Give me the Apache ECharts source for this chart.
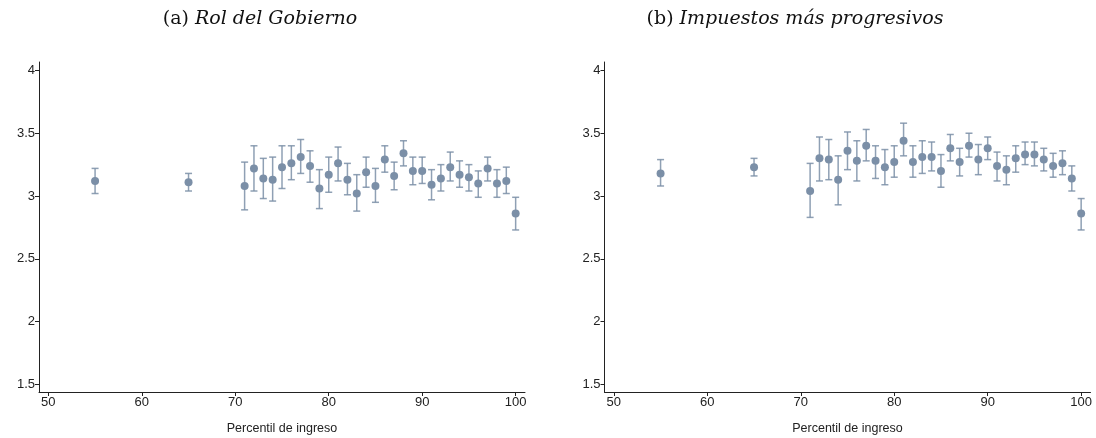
<!DOCTYPE html>
<html>
<head>
<meta charset="utf-8">
<script src="https://cdn.jsdelivr.net/npm/echarts@6/dist/echarts.min.js"></script>
<style>html,body{margin:0;padding:0;background:#fff;}#c{width:1096px;height:438px;}</style>
</head>
<body>
<div id="c"></div>
<script>
// Percentiles (x)
const pctl = [55,65,71,72,73,74,75,76,77,78,79,80,81,82,83,84,85,86,87,88,89,90,91,92,93,94,95,96,97,98,99,100];
// Panel (a) Rol del Gobierno
const meanA = [3.12,3.11,3.08,3.22,3.14,3.13,3.23,3.26,3.31,3.24,3.06,3.17,3.26,3.13,3.02,3.19,3.08,3.29,3.16,3.34,3.20,3.20,3.09,3.14,3.23,3.17,3.15,3.10,3.22,3.10,3.12,2.86];
const upA   = [3.22,3.18,3.27,3.40,3.30,3.31,3.40,3.40,3.45,3.36,3.21,3.31,3.39,3.26,3.17,3.31,3.22,3.40,3.27,3.44,3.31,3.31,3.21,3.25,3.35,3.28,3.25,3.20,3.31,3.21,3.23,2.99];
const loA   = [3.02,3.04,2.89,3.04,2.98,2.96,3.06,3.13,3.18,3.11,2.90,3.03,3.12,3.01,2.88,3.07,2.95,3.19,3.05,3.24,3.09,3.10,2.97,3.04,3.12,3.07,3.04,2.99,3.12,2.99,3.02,2.73];
// Panel (b) Impuestos más progresivos
const meanB = [3.18,3.23,3.04,3.30,3.29,3.13,3.36,3.28,3.40,3.28,3.23,3.27,3.44,3.27,3.31,3.31,3.20,3.38,3.27,3.40,3.29,3.38,3.24,3.21,3.30,3.33,3.33,3.29,3.24,3.26,3.14,2.86];
const upB   = [3.29,3.30,3.26,3.47,3.45,3.32,3.51,3.44,3.53,3.40,3.37,3.40,3.58,3.40,3.44,3.43,3.33,3.49,3.38,3.50,3.41,3.47,3.35,3.32,3.40,3.43,3.43,3.38,3.34,3.36,3.24,2.98];
const loB   = [3.08,3.16,2.83,3.12,3.13,2.93,3.21,3.12,3.28,3.14,3.09,3.15,3.32,3.15,3.18,3.20,3.07,3.28,3.16,3.31,3.17,3.29,3.12,3.09,3.19,3.25,3.24,3.20,3.15,3.17,3.04,2.73];
// Tick labels
const xTicks = [50,60,70,80,90,100];
const yTicks = [1.5,2,2.5,3,3.5,4];
const titles = [["(a) ","Rol del Gobierno"],["(b) ","Impuestos más progresivos"]];
const xName = "Percentil de ingreso";

const markerColor = '#7b8fa7';
const barColor = 'rgba(123,143,167,0.85)';
const axisColor = '#222';

function errData(lo, up){ return pctl.map((p,i)=>[p, lo[i], up[i]]); }
function ptData(m){ return pctl.map((p,i)=>[p, m[i]]); }

function renderErr(params, api){
  const x = api.value(0);
  const lo = api.coord([x, api.value(1)]);
  const hi = api.coord([x, api.value(2)]);
  const hw = 3.5;
  const style = {stroke: barColor, lineWidth: 1.5, fill: null};
  return {type:'group', children:[
    {type:'line', shape:{x1:lo[0], y1:lo[1], x2:hi[0], y2:hi[1]}, style},
    {type:'line', shape:{x1:lo[0]-hw, y1:lo[1], x2:lo[0]+hw, y2:lo[1]}, style},
    {type:'line', shape:{x1:hi[0]-hw, y1:hi[1], x2:hi[0]+hw, y2:hi[1]}, style}
  ]};
}

const grids = [
  {left:39, top:62, width:486, height:330, containLabel:false, outerBoundsMode:'none'},
  {left:604.5, top:62, width:486, height:330, containLabel:false, outerBoundsMode:'none'}
];

function xAxis(g){
  return {type:'value', gridIndex:g, min:49, max:101, name:xName, nameLocation:'middle', nameGap:30,
    nameTextStyle:{fontFamily:'Liberation Sans', fontSize:12.5, color:'#222'},
    axisLine:{show:true, onZero:false, lineStyle:{color:axisColor, width:1}},
    axisTick:{show:true, length:4, customValues:xTicks, lineStyle:{color:axisColor}},
    axisLabel:{customValues:xTicks, fontFamily:'Liberation Sans', fontSize:13, color:'#222', margin:4},
    splitLine:{show:false}};
}
function yAxis(g){
  return {type:'value', gridIndex:g, min:1.44, max:4.067,
    axisLine:{show:true, onZero:false, lineStyle:{color:axisColor, width:1}},
    axisTick:{show:true, length:4, customValues:yTicks, lineStyle:{color:axisColor}},
    axisLabel:{customValues:yTicks, fontFamily:'Liberation Sans', fontSize:13, color:'#222', margin:4},
    splitLine:{show:false}};
}

const titleCenters = [255, 790];
const option = {
  animation:false,
  backgroundColor:'#fff',
  title: titles.map((t,i)=>({
    text:'{n|'+t[0]+'}{i|'+t[1]+'}',
    left: titleCenters[i], top: 5, textAlign:'center',
    textStyle:{fontWeight:'normal', rich:{
      n:{fontFamily:'DejaVu Serif', fontWeight:'normal', fontSize:19, color:'#111'},
      i:{fontFamily:'DejaVu Serif', fontWeight:'normal', fontStyle:'italic', fontSize:19, color:'#111'}
    }}
  })),
  grid: grids,
  xAxis: [xAxis(0), xAxis(1)],
  yAxis: [yAxis(0), yAxis(1)],
  series: [
    {type:'custom', xAxisIndex:0, yAxisIndex:0, data:errData(loA, upA), renderItem:renderErr, encode:{x:0, y:[1,2]}, z:2},
    {type:'scatter', xAxisIndex:0, yAxisIndex:0, data:ptData(meanA), symbol:'circle', symbolSize:8, itemStyle:{color:markerColor, opacity:1}, z:3},
    {type:'custom', xAxisIndex:1, yAxisIndex:1, data:errData(loB, upB), renderItem:renderErr, encode:{x:0, y:[1,2]}, z:2},
    {type:'scatter', xAxisIndex:1, yAxisIndex:1, data:ptData(meanB), symbol:'circle', symbolSize:8, itemStyle:{color:markerColor, opacity:1}, z:3}
  ]
};
echarts.init(document.getElementById('c'), null, {renderer:'canvas'}).setOption(option);
</script>
</body>
</html>
